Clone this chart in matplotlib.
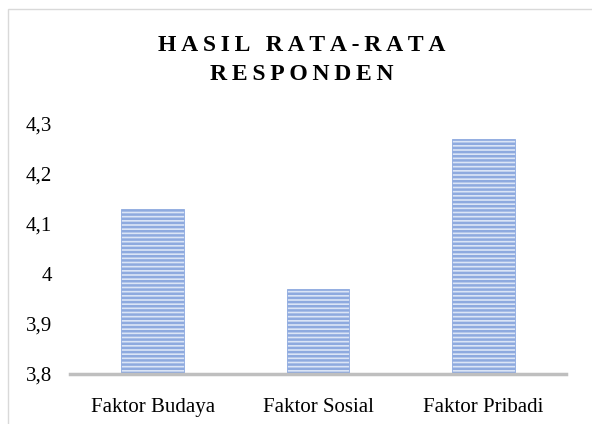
import matplotlib.pyplot as plt
from matplotlib.patches import Rectangle

categories = ['Faktor Budaya', 'Faktor Sosial', 'Faktor Pribadi']
values = [4.13, 3.97, 4.27]
yticks = [3.8, 3.9, 4.0, 4.1, 4.2, 4.3]
ytick_labels = ['3,8', '3,9', '4', '4,1', '4,2', '4,3']
title_lines = ['HASIL RATA-RATA', 'RESPONDEN']

plt.rcParams['font.family'] = ['Liberation Serif', 'DejaVu Serif']
plt.rcParams['hatch.color'] = '#4472c4'
plt.rcParams['hatch.linewidth'] = 1.8

fig = plt.figure(figsize=(5.92, 4.24), dpi=100)
ax = fig.add_axes([70 / 592, 1 - 374 / 424, 496 / 592, 250 / 424])

x = range(len(categories))
ax.bar(x, [v - 3.8 for v in values], bottom=3.8, width=0.38,
       color='#dbe5f6', edgecolor='#8eaadf', linewidth=0.6, hatch='----')

ax.set_xlim(-0.5, len(categories) - 0.5)
ax.set_ylim(3.8, 4.3)
ax.set_xticks(list(x))
ax.set_xticklabels(categories, fontsize=15)
ax.set_yticks(yticks)
ax.set_yticklabels(ytick_labels, fontsize=15)
ax.tick_params(axis='both', length=0)
ax.tick_params(axis='x', pad=17)
ax.tick_params(axis='y', pad=13)
for s in ['top', 'right', 'left']:
    ax.spines[s].set_visible(False)
ax.spines['bottom'].set_color('#bfbfbf')
ax.spines['bottom'].set_linewidth(2.5)

# spaced-out bold title, as in the original
spaced = ['\u2009'.join(line) for line in title_lines]
fig.text(302 / 592, 1 - 60 / 424, '\n'.join(spaced), ha='center', va='center',
         fontsize=17, fontweight='bold', linespacing=1.55)

# chart area border (cut off at right and bottom in the original)
fig.patches.append(Rectangle((7.5 / 592, -0.1), 1.2, 1 - 9 / 424 + 0.1,
                             transform=fig.transFigure, fill=False,
                             edgecolor='#d9d9d9', linewidth=1.0))

fig.savefig('out.png', dpi=100)
